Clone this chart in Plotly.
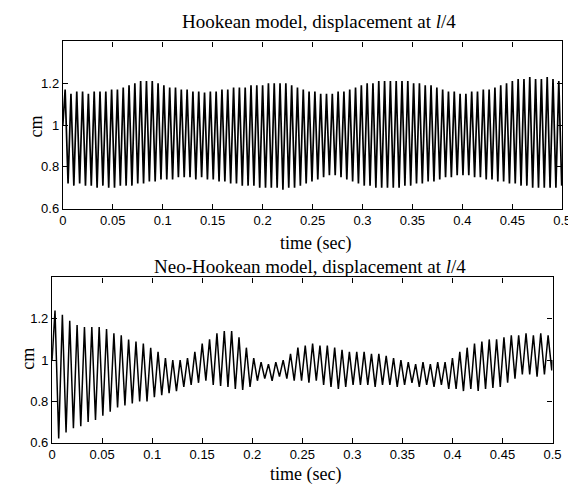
import numpy as np
import plotly.graph_objects as go

# ---------------- data ----------------
TOP_START = 1.0
TOP_PERIOD = 0.5 / 86          # sampling of one oscillation cycle (s)
TOP_PEAKS = [1.17, 1.15, 1.16, 1.16, 1.15, 1.16, 1.16, 1.16, 1.17, 1.17,
             1.18, 1.19, 1.20, 1.21, 1.21, 1.21, 1.20, 1.19, 1.18, 1.18,
             1.17, 1.17, 1.16, 1.16, 1.155, 1.16, 1.16, 1.17, 1.17, 1.18,
             1.18, 1.18, 1.19, 1.19, 1.19, 1.20, 1.20, 1.20, 1.20, 1.19,
             1.18, 1.17, 1.16, 1.16, 1.15, 1.15, 1.15, 1.16, 1.16, 1.17,
             1.18, 1.19, 1.20, 1.20, 1.21, 1.21, 1.21, 1.21, 1.21, 1.21,
             1.20, 1.20, 1.19, 1.19, 1.18, 1.17, 1.16, 1.16, 1.15, 1.15,
             1.16, 1.16, 1.17, 1.17, 1.18, 1.19, 1.20, 1.21, 1.22, 1.22,
             1.23, 1.22, 1.22, 1.23, 1.22, 1.21]
TOP_TROUGHS = [0.72, 0.71, 0.72, 0.71, 0.71, 0.70, 0.71, 0.70, 0.70, 0.71,
               0.71, 0.71, 0.72, 0.72, 0.73, 0.73, 0.74, 0.74, 0.74, 0.75,
               0.75, 0.75, 0.74, 0.75, 0.74, 0.74, 0.73, 0.73, 0.72, 0.72,
               0.71, 0.71, 0.71, 0.70, 0.70, 0.70, 0.70, 0.69, 0.70, 0.70,
               0.71, 0.72, 0.73, 0.74, 0.75, 0.76, 0.76, 0.75, 0.74, 0.73,
               0.72, 0.71, 0.71, 0.70, 0.70, 0.70, 0.70, 0.70, 0.71, 0.71,
               0.72, 0.72, 0.73, 0.73, 0.74, 0.75, 0.75, 0.76, 0.76, 0.76,
               0.75, 0.75, 0.74, 0.74, 0.73, 0.73, 0.72, 0.72, 0.71, 0.71,
               0.70, 0.70, 0.70, 0.70, 0.70, 0.71]

BOT_START = 1.0
BOT_END = 1.0
BOT_PERIOD = 0.5 / 68
BOT_PEAKS = [1.24, 1.22, 1.19, 1.17, 1.16, 1.16, 1.16, 1.15, 1.13, 1.12,
             1.10, 1.09, 1.08, 1.06, 1.04, 1.01, 1.00, 1.00, 1.01, 1.04,
             1.08, 1.10, 1.13, 1.14, 1.14, 1.11, 1.06, 1.01, 0.99, 0.98,
             0.99, 1.00, 1.03, 1.06, 1.07, 1.08, 1.07, 1.07, 1.06, 1.05,
             1.04, 1.04, 1.04, 1.03, 1.03, 1.02, 1.01, 1.00, 0.99, 0.98,
             0.99, 0.98, 0.99, 0.99, 1.01, 1.04, 1.06, 1.08, 1.09, 1.10,
             1.10, 1.11, 1.12, 1.12, 1.13, 1.12, 1.13, 1.12]
BOT_TROUGHS = [0.62, 0.65, 0.67, 0.68, 0.70, 0.71, 0.73, 0.75, 0.77, 0.78,
               0.79, 0.80, 0.80, 0.82, 0.83, 0.84, 0.85, 0.87, 0.88, 0.89,
               0.90, 0.88, 0.875, 0.87, 0.86, 0.855, 0.87, 0.90, 0.91, 0.90,
               0.92, 0.91, 0.90, 0.90, 0.89, 0.90, 0.88, 0.87, 0.86, 0.87,
               0.88, 0.88, 0.88, 0.87, 0.88, 0.88, 0.87, 0.88, 0.89, 0.87,
               0.88, 0.87, 0.88, 0.86, 0.86, 0.85, 0.86, 0.85, 0.86, 0.865,
               0.87, 0.89, 0.91, 0.93, 0.93, 0.92, 0.93, 0.95]

TOP_TITLE = "Hookean model, displacement at <i>l</i>/4"
BOT_TITLE = "Neo-Hookean model, displacement at <i>l</i>/4"
X_LABEL = "time (sec)"
Y_LABEL = "cm"
X_TICKS = [0, 0.05, 0.1, 0.15, 0.2, 0.25, 0.3, 0.35, 0.4, 0.45, 0.5]
X_TICKTEXT = ["0", "0.05", "0.1", "0.15", "0.2", "0.25", "0.3", "0.35", "0.4", "0.45", "0.5"]
Y_TICKS = [0.6, 0.8, 1.0, 1.2]
Y_TICKTEXT = ["0.6", "0.8", "1", "1.2"]


def zigzag(start, peaks, troughs, period, end=None):
    n = len(peaks)
    k = np.arange(n)
    tp = period * (k + 0.4)
    tt = period * (k + 0.9)
    t = np.empty(2 * n)
    y = np.empty(2 * n)
    t[0::2], t[1::2] = tp, tt
    y[0::2], y[1::2] = peaks, troughs
    t = np.concatenate([[0.0], t])
    y = np.concatenate([[start], y])
    if end is not None:
        t = np.concatenate([t, [n * period]])
        y = np.concatenate([y, [end]])
    return t, y


tt_top, yy_top = zigzag(TOP_START, TOP_PEAKS, TOP_TROUGHS, TOP_PERIOD)
tt_bot, yy_bot = zigzag(BOT_START, BOT_PEAKS, BOT_TROUGHS, BOT_PERIOD, BOT_END)

W, H = 576, 484
fig = go.Figure()
fig.add_trace(go.Scatter(x=tt_top, y=yy_top, mode="lines",
                         line=dict(color="black", width=1.7),
                         xaxis="x", yaxis="y", showlegend=False))
fig.add_trace(go.Scatter(x=tt_bot, y=yy_bot, mode="lines",
                         line=dict(color="black", width=1.5),
                         xaxis="x2", yaxis="y2", showlegend=False))

# pixel boxes of the two axes
TOPBOX = dict(x0=52, x1=563, y0=34, y1=204)
BOTBOX = dict(x0=41, x1=553, y0=274, y1=442)

def px_dom(b):
    return [b["x0"] / W, b["x1"] / W], [1 - b["y1"] / H, 1 - b["y0"] / H]

tx, ty = px_dom(TOPBOX)
bx, by = px_dom(BOTBOX)

tick_font = dict(family="Liberation Sans, Arial, sans-serif", size=13, color="black")
common_x = dict(range=[0, 0.5], tickvals=X_TICKS, ticktext=X_TICKTEXT,
                ticks="inside", ticklen=5, tickcolor="black", mirror="ticks",
                showline=True, linecolor="black", linewidth=1.2,
                showgrid=False, zeroline=False, tickfont=tick_font)
common_y = dict(range=[0.6, 1.4], tickvals=Y_TICKS, ticktext=Y_TICKTEXT,
                ticks="inside", ticklen=5, tickcolor="black", mirror="ticks",
                showline=True, linecolor="black", linewidth=1.2,
                showgrid=False, zeroline=False, tickfont=tick_font)

fig.update_layout(
    width=W, height=H, margin=dict(l=0, r=0, t=0, b=0),
    paper_bgcolor="white", plot_bgcolor="white",
    xaxis=dict(domain=tx, anchor="y", **common_x),
    yaxis=dict(domain=ty, anchor="x", **common_y),
    xaxis2=dict(domain=bx, anchor="y2", **common_x),
    yaxis2=dict(domain=by, anchor="x2", **common_y),
)

title_font = dict(family="Liberation Serif, DejaVu Serif, serif", size=19, color="black")
label_font = dict(family="Liberation Serif, DejaVu Serif, serif", size=18, color="black")

def ann(text, xpx, ypx, font, angle=0):
    fig.add_annotation(text=text, x=xpx / W, y=1 - ypx / H, xref="paper", yref="paper",
                       showarrow=False, font=font, textangle=angle,
                       xanchor="center", yanchor="middle")

ann(TOP_TITLE, 314, 14, title_font)
ann(X_LABEL, 310, 239, label_font)
ann(Y_LABEL, 25, 120, label_font, -90)
ann(BOT_TITLE, 305, 263, title_font)
ann(X_LABEL, 300, 474, label_font)
ann(Y_LABEL, 16, 357, label_font, -90)

fig.write_html("out.html")
